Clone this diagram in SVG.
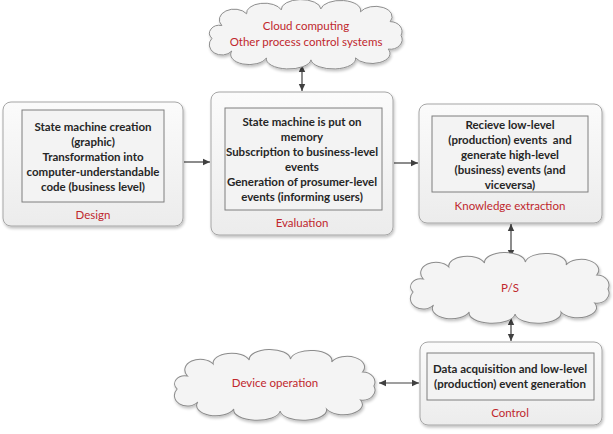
<svg xmlns="http://www.w3.org/2000/svg" width="613" height="434" viewBox="0 0 613 434">
<style>
.outer{fill:url(#g);stroke:#a6a6a6;stroke-width:1}
.inner{fill:#f3f3f3;stroke:#7f7f7f;stroke-width:1}
.b{font-family:Lato,"Liberation Sans",sans-serif;font-weight:bold;font-size:11.5px;fill:#262626;text-anchor:middle}
.r{font-family:Lato,"Liberation Sans",sans-serif;font-size:11.5px;fill:#c0272d;text-anchor:middle}
.cloud{fill:#f4f4f4;stroke:#8c8c8c;stroke-width:1}
.con{stroke:#404040;stroke-width:1.2;fill:none}
</style>
<defs>
<linearGradient id="g" x1="0" y1="0" x2="0" y2="1">
<stop offset="0" stop-color="#fbfbfb"/>
<stop offset="1" stop-color="#ececec"/>
</linearGradient>
<filter id="sh" x="-10%" y="-10%" width="120%" height="125%">
<feGaussianBlur in="SourceAlpha" stdDeviation="1.5"/>
<feOffset dx="1" dy="2"/>
<feComponentTransfer><feFuncA type="linear" slope="0.25"/></feComponentTransfer>
<feMerge><feMergeNode/><feMergeNode in="SourceGraphic"/></feMerge>
</filter>
<marker id="ah" markerWidth="8" markerHeight="8" refX="7" refY="4" orient="auto-start-reverse" markerUnits="userSpaceOnUse">
<path d="M0,0.8 L7,4 L0,7.2 Z" fill="#404040"/>
</marker>
<path id="cloudp" d="M15,22 A14,10 0 0 1 40,10 A18,10 0 0 1 75,6 A20,10 0 0 1 115,5 A20,10 0 0 1 155,8 A16,10 0 0 1 185,18 A12,10 0 0 1 196,32 A12,10 0 0 1 183,46 A18,10 0 0 1 150,55 A22,10 0 0 1 105,57 A22,10 0 0 1 60,55 A18,10 0 0 1 25,48 A12,10 0 0 1 5,35 A10,8 0 0 1 15,22 Z"/>
</defs>
<rect width="613" height="434" fill="#ffffff"/>

<g id="connectors">
<line class="con" x1="184" y1="162" x2="210" y2="162" marker-end="url(#ah)"/>
<line class="con" x1="394" y1="163" x2="418" y2="163" marker-end="url(#ah)"/>
<line class="con" x1="302" y1="65" x2="302" y2="91" marker-start="url(#ah)" marker-end="url(#ah)"/>
<line class="con" x1="511" y1="224" x2="511" y2="257" marker-start="url(#ah)" marker-end="url(#ah)"/>
<line class="con" x1="511" y1="318" x2="511" y2="341" marker-start="url(#ah)" marker-end="url(#ah)"/>
<line class="con" x1="379" y1="383" x2="419" y2="383" marker-start="url(#ah)" marker-end="url(#ah)"/>
</g>

<g id="design">
<rect class="outer" x="3" y="102" width="180" height="124" rx="8" filter="url(#sh)"/>
<rect class="inner" x="22" y="110" width="142" height="92"/>
<text class="b" x="93" y="131">State machine creation</text>
<text class="b" x="93" y="146">(graphic)</text>
<text class="b" x="93" y="161">Transformation into</text>
<text class="b" x="93" y="176">computer-understandable</text>
<text class="b" x="93" y="191">code (business level)</text>
<text class="r" x="93" y="219">Design</text>
</g>

<g id="evaluation">
<rect class="outer" x="211" y="92" width="182" height="143" rx="8" filter="url(#sh)"/>
<rect class="inner" x="225" y="108" width="157" height="102"/>
<text class="b" x="302" y="126">State machine is put on</text>
<text class="b" x="302" y="141">memory</text>
<text class="b" x="302" y="156">Subscription to business-level</text>
<text class="b" x="302" y="171">events</text>
<text class="b" x="302" y="186">Generation of prosumer-level</text>
<text class="b" x="302" y="201">events (informing users)</text>
<text class="r" x="302" y="227">Evaluation</text>
</g>

<g id="knowledge">
<rect class="outer" x="419" y="104" width="183" height="119" rx="8" filter="url(#sh)"/>
<rect class="inner" x="432" y="116" width="156" height="76"/>
<text class="b" x="510" y="129">Recieve low-level</text>
<text class="b" x="510" y="144">(production) events&#160; and</text>
<text class="b" x="510" y="159">generate high-level</text>
<text class="b" x="510" y="174">(business) events (and</text>
<text class="b" x="510" y="189">viceversa)</text>
<text class="r" x="510" y="210">Knowledge extraction</text>
</g>

<g id="control">
<rect class="outer" x="420" y="342" width="182" height="83" rx="8" filter="url(#sh)"/>
<rect class="inner" x="427" y="353" width="167" height="47"/>
<text class="b" x="510" y="373">Data acquisition and low-level</text>
<text class="b" x="510" y="388">(production) event generation</text>
<text class="r" x="510" y="417">Control</text>
</g>

<g id="cloud-top">
<use href="#cloudp" class="cloud" transform="translate(207,4) scale(0.99,0.98)" filter="url(#sh)"/>
<text class="r" x="306" y="30">Cloud computing</text>
<text class="r" x="306" y="46">Other process control systems</text>
</g>

<g id="cloud-ps">
<use href="#cloudp" class="cloud" transform="translate(408,257) scale(1.02,1.0)" filter="url(#sh)"/>
<text class="r" x="510" y="292">P/S</text>
</g>

<g id="cloud-device">
<use href="#cloudp" class="cloud" transform="translate(172,354) scale(1.03,1.0)" filter="url(#sh)"/>
<text class="r" x="275" y="387">Device operation</text>
</g>
</svg>
